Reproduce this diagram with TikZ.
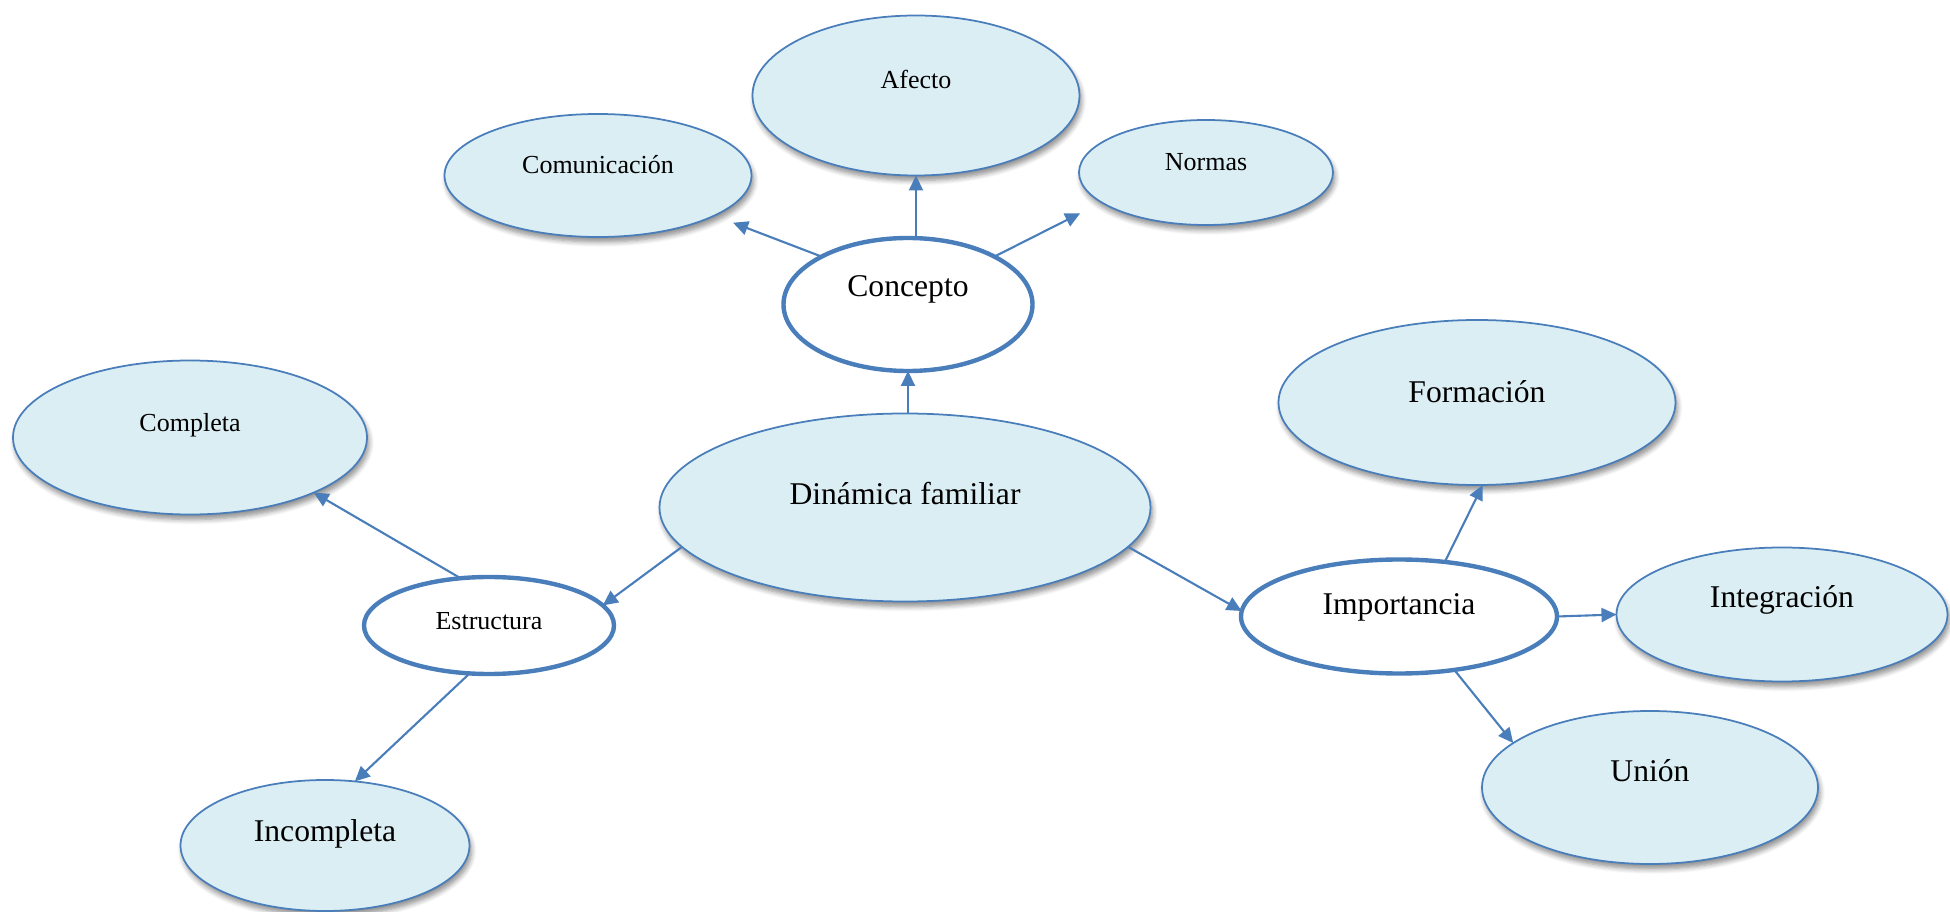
\documentclass[tikz,border=0pt]{standalone}
\usepackage{fontspec}
\setmainfont{Liberation Serif}
\usetikzlibrary{shapes.geometric, arrows.meta, shadows.blur}
\definecolor{lineblue}{RGB}{74,126,187}
\definecolor{paleblue}{RGB}{219,238,244}

\begin{document}
\begin{tikzpicture}[>={Triangle[length=0.15cm,width=0.14cm]}]
	\tikzstyle{bubble}=[ellipse, draw=lineblue, line width=0.5pt, fill=paleblue, inner sep=0pt, outer sep=0pt, blur shadow={shadow xshift=0.02cm, shadow yshift=-0.05cm, shadow blur radius=0.05cm, shadow blur steps=6, shadow opacity=45}]
	\tikzstyle{hub}=[ellipse, draw=lineblue, line width=1.25pt, fill=white, inner sep=0pt, outer sep=0pt]
	\tikzstyle{link}=[->, draw=lineblue, line width=0.6pt]
	\tikzstyle{big}=[font=\fontsize{9}{11}\selectfont]
	\tikzstyle{small}=[font=\fontsize{7.4}{9}\selectfont]
	\useasboundingbox (0,0) rectangle (19.5,9.115);
	
	\node[bubble, minimum width=4.91cm, minimum height=1.88cm, label={[big, yshift=0.14cm]center:Dinámica familiar}] (dinamica) at (9.05,4.04) {};
	\node[hub, minimum width=2.49cm, minimum height=1.33cm, label={[big, yshift=0.15cm]center:Concepto}] (concepto) at (9.08,6.07) {};
	\node[hub, minimum width=2.50cm, minimum height=0.97cm, label={[small, yshift=0.04cm]center:Estructura}] (estructura) at (4.89,2.86) {};
	\node[hub, minimum width=3.16cm, minimum height=1.14cm, label={[big, yshift=0.09cm]center:Importancia}] (importancia) at (13.99,2.95) {};
	
	\node[bubble, minimum width=3.27cm, minimum height=1.60cm, label={[small, yshift=0.16cm]center:Afecto}] (afecto) at (9.16,8.16) {};
	\node[bubble, minimum width=3.07cm, minimum height=1.23cm, label={[small, yshift=0.11cm]center:Comunicación}] (comunicacion) at (5.98,7.36) {};
	\node[bubble, minimum width=2.54cm, minimum height=1.05cm, label={[small, yshift=0.10cm]center:Normas}] (normas) at (12.06,7.39) {};
	\node[bubble, minimum width=3.54cm, minimum height=1.54cm, label={[small, yshift=0.12cm]center:Completa}] (completa) at (1.90,4.74) {};
	\node[bubble, minimum width=2.89cm, minimum height=1.31cm, label={[big, yshift=0.12cm]center:Incompleta}] (incompleta) at (3.25,0.66) {};
	\node[bubble, minimum width=3.97cm, minimum height=1.65cm, label={[big, yshift=0.11cm]center:Formación}] (formacion) at (14.77,5.09) {};
	\node[bubble, minimum width=3.31cm, minimum height=1.34cm, label={[big, yshift=0.15cm]center:Integración}] (integracion) at (17.82,2.97) {};
	\node[bubble, minimum width=3.36cm, minimum height=1.53cm, label={[big, yshift=0.17cm]center:Unión}] (union) at (16.50,1.24) {};
	
	\draw[link] (concepto.south |- dinamica.north) -- (concepto.south);
	\draw[link] (afecto.south |- concepto.north) -- (afecto.south);
	\draw[link, shorten >=0.2cm] (concepto.151) -- (comunicacion.-19);
	\draw[link, shorten >=0.24cm] (concepto.29) -- (normas.196);
	\draw[link] (dinamica.190) -- (estructura.10);
	\draw[link] (dinamica.-10) -- (importancia.178);
	\draw[link] (estructura.121) -- (completa.-24);
	\draw[link] (estructura.248) -- (incompleta.65);
	\draw[link] (importancia.50) -- (formacion.-86);
	\draw[link] (importancia.east) -- (integracion.west);
	\draw[link] (importancia.-44) -- (union.162);
\end{tikzpicture}
\end{document}
